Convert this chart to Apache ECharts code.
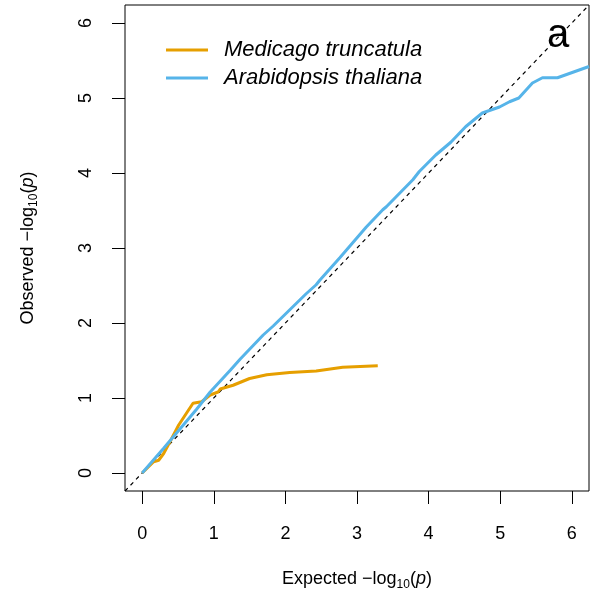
<!DOCTYPE html>
<html>
<head>
<meta charset="utf-8">
<script src="https://cdn.jsdelivr.net/npm/echarts@6/dist/echarts.min.js"></script>
<style>
  html, body { margin: 0; padding: 0; background: #fff; }
  #main { width: 591px; height: 599px; }
</style>
</head>
<body>
<div id="main"></div>
<script>
// expected / observed -log10(p)
var medExpected = [0, 0.16, 0.23, 0.30, 0.39, 0.51, 0.62, 0.71, 0.83, 0.95, 1.06, 1.09, 1.27, 1.50, 1.74, 2.06, 2.43, 2.80, 3.29];
var medObserved = [0, 0.15, 0.17, 0.26, 0.42, 0.64, 0.80, 0.93, 0.95, 1.04, 1.08, 1.12, 1.17, 1.26, 1.31, 1.34, 1.36, 1.41, 1.43];

var araExpected = [0, 0.30, 0.76, 0.95, 1.23, 1.37, 1.69, 1.83, 2.29, 2.43, 2.48, 2.76, 3.13, 3.36, 3.41, 3.78, 3.87, 4.10, 4.31, 4.52, 4.75, 4.99, 5.13, 5.26, 5.45, 5.59, 5.80, 6.24];
var araObserved = [0, 0.33, 0.85, 1.08, 1.37, 1.52, 1.84, 1.96, 2.39, 2.51, 2.57, 2.87, 3.28, 3.51, 3.55, 3.91, 4.02, 4.24, 4.41, 4.62, 4.80, 4.88, 4.95, 5.00, 5.20, 5.27, 5.27, 5.42];

// y = x reference line across the whole plot range
var diagonal = [-0.24, 6.24];

var tickValues = [0, 1, 2, 3, 4, 5, 6];
var speciesNames = ['Medicago truncatula', 'Arabidopsis thaliana'];

function pairs(xs, ys) {
  return xs.map(function (x, i) { return [x, ys[i]]; });
}

var FONT = 'Liberation Sans, Arial, sans-serif';
var nameRich = {
  t: { fontSize: 18, fontFamily: FONT, color: '#000', lineHeight: 24 },
  s: { fontSize: 12, fontFamily: FONT, color: '#000', lineHeight: 14, verticalAlign: 'bottom' },
  i: { fontSize: 18, fontFamily: FONT, color: '#000', fontStyle: 'italic', lineHeight: 24 }
};

function axisCommon() {
  return {
    type: 'value',
    min: -0.24,
    max: 6.24,
    axisLine: { show: false, onZero: false },
    splitLine: { show: false },
    axisTick: {
      show: true, length: 13, customValues: tickValues,
      lineStyle: { color: '#000', width: 1 }
    },
    nameLocation: 'middle',
    nameMoveOverlap: false,
    nameTextStyle: { rich: nameRich }
  };
}

var chart = echarts.init(document.getElementById('main'));

var xAxis = axisCommon();
xAxis.name = '{t|Expected −log}{s|10}{t|(}{i|p}{t|)}';
xAxis.nameGap = 76;
xAxis.axisLabel = { customValues: tickValues, margin: 34, fontSize: 18, fontFamily: FONT, color: '#000' };

var yAxis = axisCommon();
yAxis.name = '{t|Observed −log}{s|10}{t|(}{i|p}{t|)}';
yAxis.nameGap = 85;
yAxis.axisLabel = { customValues: tickValues, margin: 30, rotate: 90, fontSize: 18, fontFamily: FONT, color: '#000' };

chart.setOption({
  animation: false,
  backgroundColor: '#fff',
  grid: {
    left: 125, top: 5, right: 2, bottom: 108,
    show: true, borderColor: '#000', borderWidth: 1, backgroundColor: 'transparent'
  },
  xAxis: xAxis,
  yAxis: yAxis,
  legend: {
    data: speciesNames,
    orient: 'vertical',
    left: 161,
    top: 31,
    itemWidth: 42,
    itemHeight: 3,
    itemGap: 0,
    icon: 'rect',
    textStyle: {
      fontSize: 22, fontFamily: FONT, fontStyle: 'italic', color: '#000',
      lineHeight: 28, padding: [0, 0, 0, 11]
    }
  },
  graphic: [{
    type: 'text',
    style: {
      text: 'a', x: 558, y: 36, font: '40px ' + FONT,
      fill: '#000', textAlign: 'center', textVerticalAlign: 'middle'
    }
  }],
  series: [
    {
      name: 'diagonal',
      type: 'line',
      data: pairs(diagonal, diagonal),
      showSymbol: false,
      lineStyle: { color: '#000', width: 1.2, type: [4, 4] },
      z: 1
    },
    {
      name: speciesNames[0],
      type: 'line',
      data: pairs(medExpected, medObserved),
      showSymbol: false,
      color: '#E69F00',
      lineStyle: { color: '#E69F00', width: 3 },
      z: 2
    },
    {
      name: speciesNames[1],
      type: 'line',
      data: pairs(araExpected, araObserved),
      showSymbol: false,
      color: '#56B4E9',
      lineStyle: { color: '#56B4E9', width: 3 },
      z: 3
    }
  ]
});
</script>
</body>
</html>
